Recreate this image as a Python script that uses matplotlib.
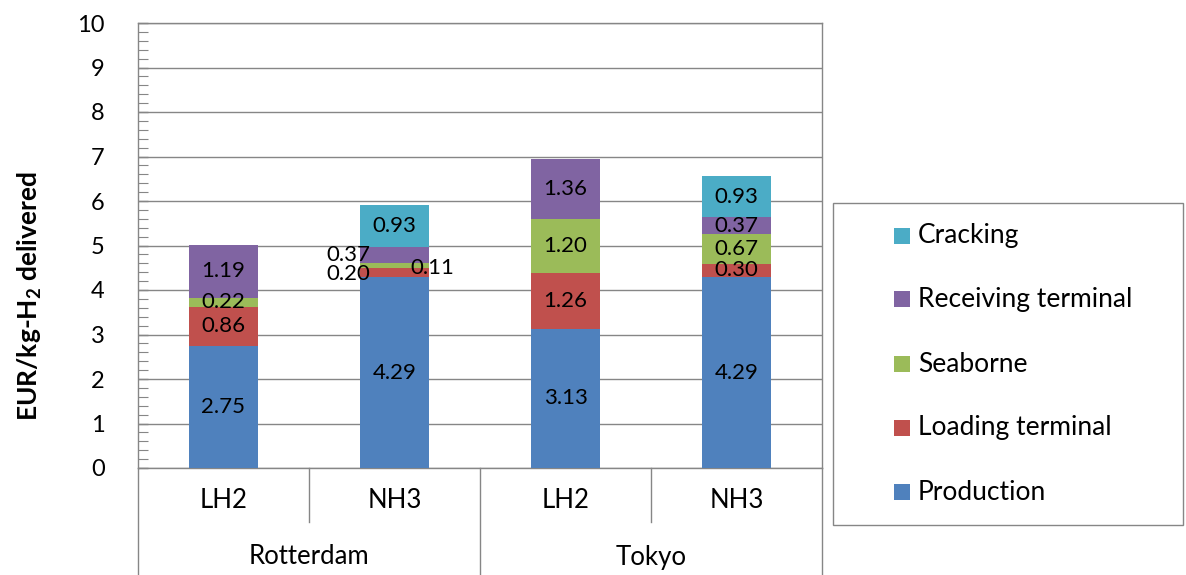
import matplotlib
matplotlib.use("Agg")
import matplotlib.pyplot as plt
from matplotlib.patches import Rectangle
from matplotlib.lines import Line2D
import numpy as np

plt.rcParams['font.family'] = ['Lato', 'DejaVu Sans']

cities = ["Rotterdam", "Tokyo"]
carriers = ["LH2", "NH3", "LH2", "NH3"]
components = ["Production", "Loading terminal", "Seaborne", "Receiving terminal", "Cracking"]
production = [2.75, 4.29, 3.13, 4.29]
loading = [0.86, 0.20, 1.26, 0.30]
seaborne = [0.22, 0.11, 1.20, 0.67]
receiving = [1.19, 0.37, 1.36, 0.37]
cracking = [0.0, 0.93, 0.0, 0.93]
colors = ["#4F81BD", "#C0504D", "#9BBB59", "#8064A2", "#4BACC6"]

series = [production, loading, seaborne, receiving, cracking]

W, H = 1186, 575
fig = plt.figure(figsize=(W / 100, H / 100), dpi=100)
left, right, top, bottom = 138, 822, 23, 468
ax = fig.add_axes([left / W, 1 - bottom / H, (right - left) / W, (bottom - top) / H])

grid_c = "#868686"
x = np.arange(len(carriers)) + 0.5
bar_w = 0.40
base = np.zeros(len(carriers))

# label offsets (x shift, y shift) for crowded small segments
offsets = {(1, 1): (-0.27, -0.02), (1, 2): (0.22, -0.06), (1, 3): (-0.27, 0.0)}

for si, (vals, col) in enumerate(zip(series, colors)):
    vals = np.array(vals)
    ax.bar(x, vals, bar_w, bottom=base, color=col, edgecolor="none", zorder=3)
    for i, v in enumerate(vals):
        if v <= 0:
            continue
        dx, dy = offsets.get((i, si), (0.0, 0.0))
        ax.text(x[i] + dx, base[i] + v / 2 + dy, f"{v:.2f}", ha="center", va="center",
                fontsize=16, color="black", zorder=5)
    base = base + vals

ax.set_xlim(0, 4)
ax.set_ylim(0, 10)
ax.set_yticks(np.arange(0, 11, 1))
ax.set_yticks(np.arange(0, 10.01, 0.2), minor=True)
ax.set_xticks([])
ax.tick_params(axis="y", which="major", direction="in", length=7, width=1, color=grid_c,
               labelsize=17, pad=24)
ax.tick_params(axis="y", which="minor", direction="in", length=7, width=0.8, color=grid_c)
ax.yaxis.grid(True, which="major", color=grid_c, lw=1, zorder=0)
ax.set_axisbelow(True)
for s in ax.spines.values():
    s.set_color(grid_c)
    s.set_linewidth(1)

# category axis below the plot
tr = ax.get_xaxis_transform()
y_inner = (bottom - 522) / (bottom - top)
y_outer = (bottom - 575) / (bottom - top)
for xv in [0, 2, 4]:
    ax.add_line(Line2D([xv, xv], [0, y_outer], transform=tr, color=grid_c, lw=1, clip_on=False))
for xv in [1, 3]:
    ax.add_line(Line2D([xv, xv], [0, y_inner], transform=tr, color=grid_c, lw=1, clip_on=False))
y_lab1 = (bottom - 500) / (bottom - top)
y_lab2 = (bottom - 557) / (bottom - top)
for xi, c in zip(x, carriers):
    ax.text(xi, y_lab1, c, transform=tr, ha="center", va="center", fontsize=18.5)
for ci, c in enumerate(cities):
    ax.text(2 * ci + 1, y_lab2, c, transform=tr, ha="center", va="center", fontsize=18.5)

fig.text(30 / W, 1 - 296 / H, r"EUR/kg-H$_\mathregular{2}$ delivered", rotation=90,
         ha="center", va="center", fontsize=19, fontweight="bold")

# legend box
lx0, lx1, ly0, ly1 = 833, 1183, 203, 525
fig.patches.append(Rectangle((lx0 / W, 1 - ly1 / H), (lx1 - lx0) / W, (ly1 - ly0) / H,
                             transform=fig.transFigure, facecolor="white",
                             edgecolor=grid_c, lw=1))
leg_y = [236, 299, 364, 428, 492]
for name, col, yy in zip(components[::-1], colors[::-1], leg_y):
    fig.patches.append(Rectangle((894 / W, 1 - (yy + 8) / H), 16 / W, 16 / H,
                                 transform=fig.transFigure, facecolor=col, edgecolor="none"))
    fig.text(918 / W, 1 - yy / H, name, ha="left", va="center", fontsize=19)

fig.savefig("out.png", dpi=100)
